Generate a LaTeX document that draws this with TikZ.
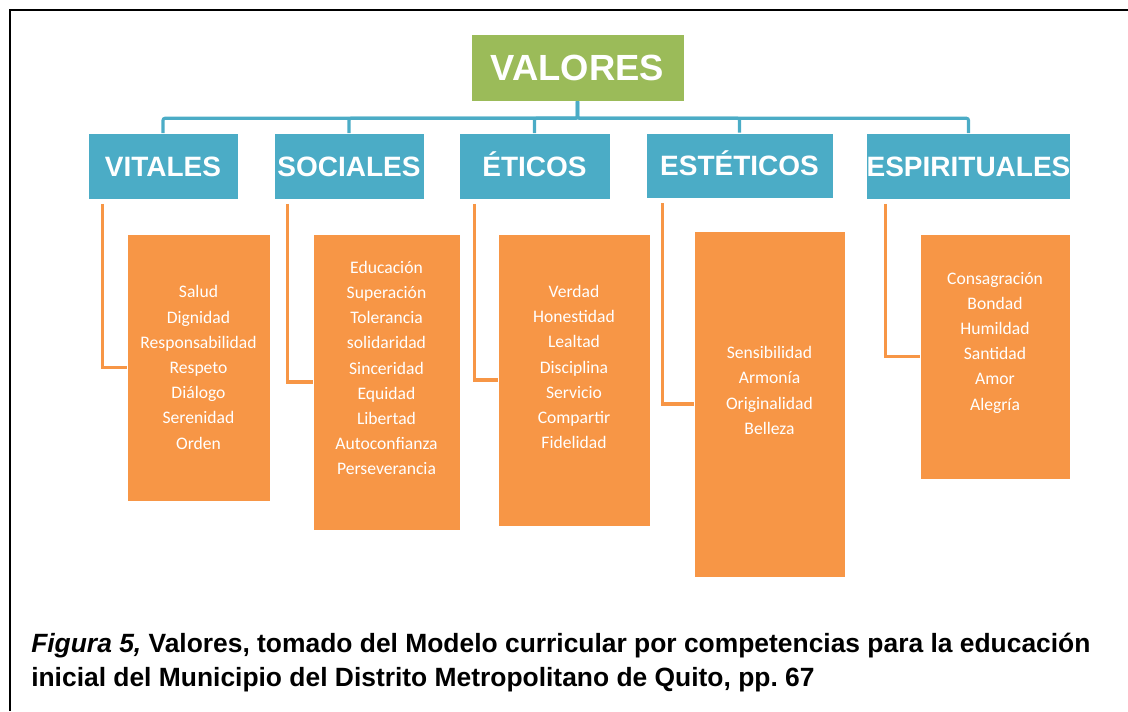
\documentclass[tikz,border=0pt]{standalone}
\usepackage{fontspec}
\setmainfont{Liberation Sans}
\newfontfamily\listfont{Carlito}
\usetikzlibrary{positioning,calc}
\definecolor{valgreen}{HTML}{9BBB59}
\definecolor{valblue}{HTML}{4BACC6}
\definecolor{valorange}{HTML}{F79646}
\newdimen\pxu \pxu=0.75pt
\frenchspacing
\tikzset{
    topbox/.style={fill=valgreen, draw=white, text=white, inner sep=0pt,
        text height=19.5pt, text depth=0pt,
        font=\fontsize{27.3}{30}\selectfont\bfseries},
    catbox/.style={fill=valblue, draw=white, text=white, inner sep=0pt,
        text height=15pt, text depth=0pt,
        font=\fontsize{21}{24}\selectfont\bfseries},
    listbox/.style={fill=valorange, draw=white, inner sep=0pt},
    listtext/.style={text=white, align=center, inner sep=0pt,
        font=\listfont\fontsize{13.2}{18.9}\selectfont},
    bline/.style={valblue, line width=2.3pt, rounded corners=1.5pt},
    oline/.style={valorange, line width=2.3pt},
    captext/.style={anchor=base west, inner sep=0pt, font=\fontsize{19.8}{24}\selectfont\bfseries}
}
\begin{document}
\begin{tikzpicture}[x=0.75pt, y=-0.75pt]
        % Page frame
        \useasboundingbox (0,0) rectangle (1128,711);
        \draw[line width=2.2pt] (10,711) -- (10,10) -- (1128,10);

        % Root node
        \node[topbox, minimum width=213\pxu, minimum height=67\pxu] (valores) at (577.5,67.5) {VALORES};

        % Categories
        \node[catbox, minimum width=150\pxu, minimum height=66\pxu] (vit) at (163,166.5) {VITALES};
        \node[catbox, minimum width=150\pxu, minimum height=66\pxu] (soc) at (349,166.5) {SOCIALES};
        \node[catbox, minimum width=151\pxu, minimum height=66\pxu] (eti) at (534.5,166.5) {ÉTICOS};
        \node[catbox, minimum width=187\pxu, minimum height=65\pxu] (est) at (739.5,165.5) {ESTÉTICOS};
        \node[catbox, minimum width=199\pxu, minimum height=66\pxu] (esp) at (968.5,166.5) {ESPIRITUALES};

        % Tree lines
        \foreach \c in {vit, soc, eti, est, esp} {
            \draw[bline] (valores.south) -- ++(0,17) -| (\c.north);
        }

        % Value lists
        \node[listbox, minimum width=143\pxu, minimum height=267\pxu] (vitL) at (198.5,367.5) {};
        \node[listbox, minimum width=147\pxu, minimum height=296\pxu] (socL) at (386.5,382) {};
        \node[listbox, minimum width=152\pxu, minimum height=292\pxu] (etiL) at (574,380) {};
        \node[listbox, minimum width=151\pxu, minimum height=346\pxu] (estL) at (769.5,404) {};
        \node[listbox, minimum width=150\pxu, minimum height=245\pxu] (espL) at (995,356.5) {};

        \node[listtext] (vitT) at (198.5,367.5) {Salud\\Dignidad\\Responsabilidad\\Respeto\\Diálogo\\Serenidad\\Orden};
        \node[listtext] (socT) at (386.5,368) {Educación\\Superación\\Tolerancia\\solidaridad\\Sinceridad\\Equidad\\Libertad\\Autoconfianza\\Perseverancia};
        \node[listtext] (etiT) at (574,367) {Verdad\\Honestidad\\Lealtad\\Disciplina\\Servicio\\Compartir\\Fidelidad};
        \node[listtext] (estT) at (769.5,390.5) {Sensibilidad\\Armonía\\Originalidad\\Belleza};
        \node[listtext] (espT) at (995,342.5) {Consagración\\Bondad\\Humildad\\Santidad\\Amor\\Alegría};

        % Elbow links
        \draw[oline] ($(vit.south west)+(15,4)$) |- (vitL.west);
        \draw[oline] ($(soc.south west)+(14,4)$) |- (socL.west);
        \draw[oline] ($(eti.south west)+(16,4)$) |- (etiL.west);
        \draw[oline] ($(est.south west)+(17,5)$) |- (estL.west);
        \draw[oline] ($(esp.south west)+(19,4)$) |- (espL.west);

        % Caption
        \node[captext] (cap1) at (31,652)
            {\textit{Figura 5,} Valores, tomado del Modelo curricular por competencias para la educación};
        \node[captext] (cap2) at (31,686)
            {inicial del Municipio del Distrito Metropolitano de Quito, pp. 67};
\end{tikzpicture}
\end{document}
